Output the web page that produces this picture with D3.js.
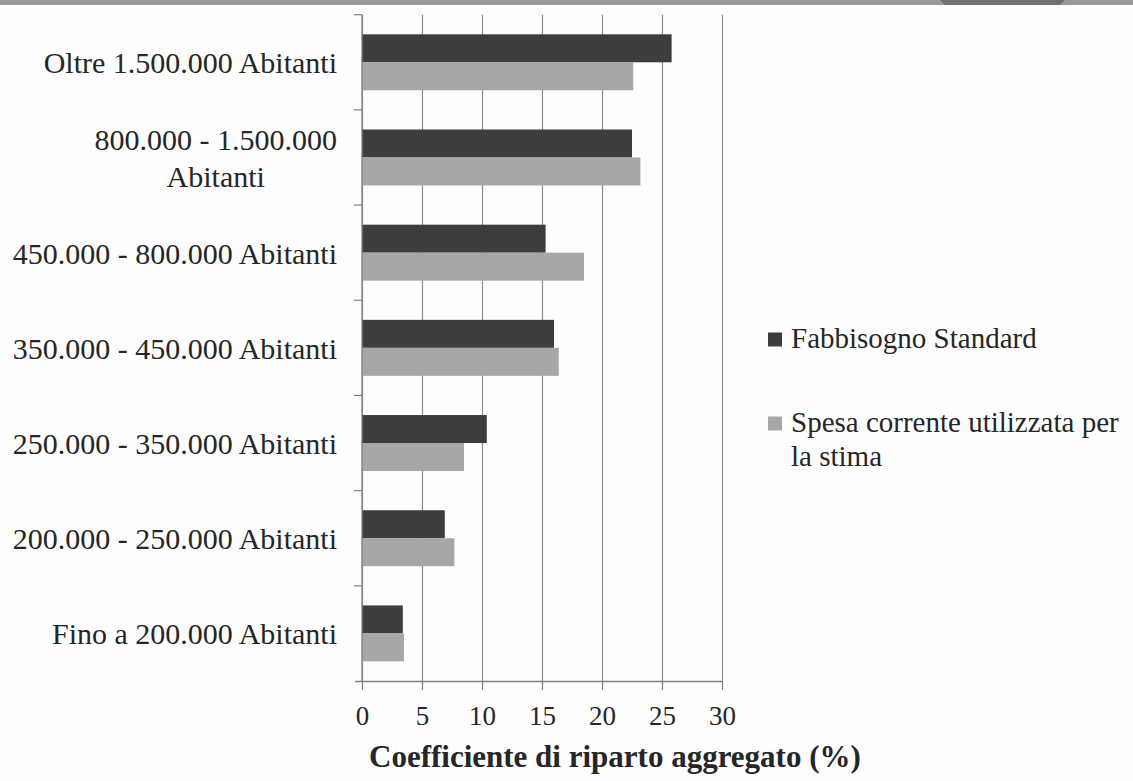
<!DOCTYPE html>
<html>
<head>
<meta charset="utf-8">
<script src="https://cdn.jsdelivr.net/npm/d3@7"></script>
<style>
  html, body { margin: 0; padding: 0; background: #fdfdfd; }
  svg { display: block; }
  text { font-family: "Liberation Serif", "Times New Roman", serif; fill: #262626; }
</style>
</head>
<body>
<svg id="chart" width="1133" height="781"></svg>
<script>
const categories = [
  "Oltre 1.500.000 Abitanti",
  "800.000 - 1.500.000 Abitanti",
  "450.000 - 800.000 Abitanti",
  "350.000 - 450.000 Abitanti",
  "250.000 - 350.000 Abitanti",
  "200.000 - 250.000 Abitanti",
  "Fino a 200.000 Abitanti"
];
const seriesNames = ["Fabbisogno Standard", "Spesa corrente utilizzata per la stima"];
const fabbisogno = [25.8, 22.5, 15.3, 16.0, 10.4, 6.9, 3.4];
const spesa = [22.6, 23.2, 18.5, 16.4, 8.5, 7.7, 3.5];
const xTicks = [0, 5, 10, 15, 20, 25, 30];
const seriesColors = ["#3d3d3d", "#a7a7a7"];
const axisTitle = "Coefficiente di riparto aggregato (%)";

const seriesValues = [fabbisogno, spesa];
const svg = d3.select("#chart");

// top banner strip
svg.append("rect").attr("x", 0).attr("y", 0).attr("width", 1133).attr("height", 5).attr("fill", "#9a9a9a");
svg.append("path").attr("d", "M940,0 L1065,0 L1060,5 L945,5 Z").attr("fill", "#707070");

const x = d3.scaleLinear().domain([0, 30]).range([362, 722]);
const y = d3.scaleBand().domain(categories).range([14.7, 681]).paddingInner(0.412).paddingOuter(0.206);
const ys = d3.scaleBand().domain([0, 1]).range([0, y.bandwidth()]);

// gridlines
const grid = svg.append("g").attr("transform", "translate(0,681)")
  .call(d3.axisBottom(x).tickValues(xTicks).tickSize(-(681 - 14.7)).tickFormat(""));
grid.select(".domain").remove();
grid.selectAll(".tick line").attr("stroke", "#8f8f8f").attr("stroke-width", 1.2);

// bars
const rows = categories.map((c, i) => ({ c, vals: seriesValues.map(s => s[i]) }));
const g = svg.append("g");
rows.forEach(r => {
  g.selectAll(null).data(r.vals).join("rect")
    .attr("x", x(0))
    .attr("y", (d, j) => y(r.c) + ys(j))
    .attr("width", d => x(d) - x(0))
    .attr("height", ys.bandwidth())
    .attr("fill", (d, j) => seriesColors[j]);
});

// x axis
const xa = svg.append("g").attr("transform", "translate(0,681)")
  .call(d3.axisBottom(x).tickValues(xTicks).tickSize(9).tickPadding(36).tickSizeOuter(0));
xa.select(".domain").attr("d", "M355,0.5H722").attr("stroke", "#808080").attr("stroke-width", 1.3);
xa.selectAll(".tick line").attr("stroke", "#808080").attr("stroke-width", 1.2);
xa.selectAll(".tick text").attr("font-size", 27).attr("dy", 0).attr("y", 44)
  .attr("font-family", "Liberation Serif").attr("fill", "#262626");

// y axis line + boundary ticks
const step = y.step();
svg.append("line").attr("x1", 362).attr("x2", 362).attr("y1", 14.7).attr("y2", 681)
  .attr("stroke", "#808080").attr("stroke-width", 1.3);
d3.range(categories.length).forEach(i => {
  const yy = y.range()[0] + i * step;
  svg.append("line").attr("x1", 354).attr("x2", 362).attr("y1", yy).attr("y2", yy)
    .attr("stroke", "#808080").attr("stroke-width", 1.2);
});

// category labels
const labelRight = 337, fs = 30, maxW = 336, lh = 36.7;
categories.forEach(c => {
  const cy = y(c) + y.bandwidth() / 2;
  const t = svg.append("text").attr("font-size", fs);
  const words = c.split(" ");
  let lines = [], cur = [];
  const probe = svg.append("text").attr("font-size", fs);
  words.forEach(w => {
    const test = cur.concat([w]).join(" ");
    probe.text(test);
    if (probe.node().getComputedTextLength() > maxW && cur.length) {
      lines.push(cur.join(" ")); cur = [w];
    } else cur.push(w);
  });
  lines.push(cur.join(" "));
  probe.text(lines[0]);
  let mw = 0;
  lines.forEach(l => { probe.text(l); mw = Math.max(mw, probe.node().getComputedTextLength()); });
  probe.remove();
  const y0 = cy - (lines.length - 1) * lh / 2 + 11;
  if (lines.length === 1) {
    t.attr("x", labelRight).attr("y", y0).attr("text-anchor", "end").text(lines[0]);
  } else {
    t.attr("text-anchor", "middle");
    lines.forEach((l, k) => {
      t.append("tspan").attr("x", labelRight - mw / 2).attr("y", y0 + k * lh).text(l);
    });
  }
});

// axis title
svg.append("text").attr("x", 369).attr("y", 767).attr("font-size", 31).attr("font-weight", "bold")
  .attr("text-anchor", "start").text(axisTitle);

// legend
const legendY = [339.5, 423.5];
const legendLines = [["Fabbisogno Standard"], ["Spesa corrente utilizzata per", "la stima"]];
seriesNames.forEach((s, i) => {
  svg.append("rect").attr("x", 768).attr("y", legendY[i] - 7).attr("width", 14).attr("height", 14)
    .attr("fill", seriesColors[i]);
  const t = svg.append("text").attr("font-size", 29);
  legendLines[i].forEach((l, k) => {
    t.append("tspan").attr("x", 791).attr("y", legendY[i] + 8.5 + k * 34).text(l);
  });
});
</script>
</body>
</html>
